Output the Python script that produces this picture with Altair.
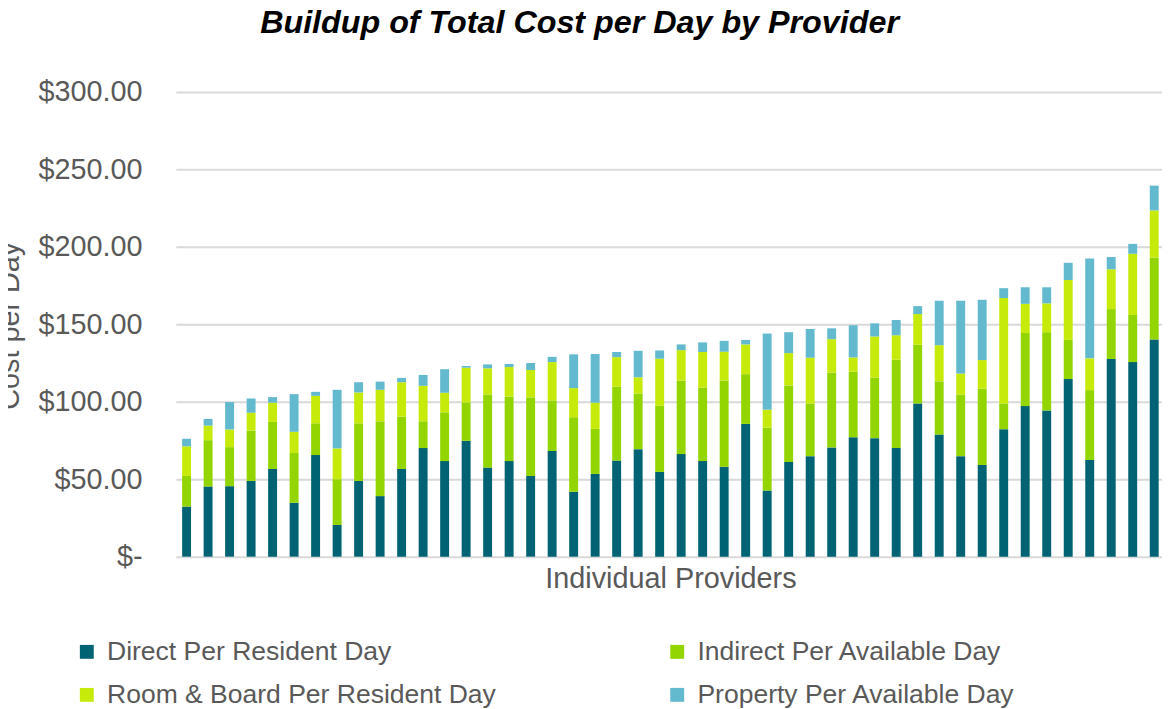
import altair as alt
import pandas as pd

providers = list(range(1, 47))

direct = [32.3, 45.3, 45.5, 48.9, 56.6, 34.8, 65.6, 20.5, 48.9, 39.1,
          56.6, 70.1, 61.7, 74.8, 57.5, 61.7, 52.1, 68.2, 41.9, 53.4,
          62.0, 69.4, 54.7, 66.2, 61.7, 58.1, 85.7, 42.7, 61.1, 64.9,
          70.5, 77.1, 76.5, 70.1, 98.9, 78.8, 64.9, 59.2, 82.3, 97.2,
          94.4, 114.7, 62.4, 127.6, 125.6, 140.2]
indirect = [19.8, 29.9, 25.2, 32.5, 30.4, 32.1, 20.5, 29.5, 37.2, 48.3,
            33.8, 17.3, 31.5, 24.8, 47.2, 41.7, 50.7, 32.7, 48.1, 29.1,
            47.8, 35.9, 42.7, 47.5, 47.5, 55.6, 32.1, 40.6, 49.4, 34.0,
            48.3, 42.3, 39.1, 57.0, 37.9, 34.4, 39.8, 49.3, 16.6, 47.2,
            50.5, 25.2, 45.1, 32.2, 30.4, 52.9]
room_board = [19.1, 9.4, 11.4, 11.5, 12.4, 13.7, 17.7, 19.9, 19.9, 20.3,
              22.2, 22.9, 12.6, 22.4, 16.9, 19.0, 17.7, 24.7, 18.8, 16.9,
              19.0, 10.5, 30.4, 19.6, 22.9, 18.6, 19.2, 11.6, 20.9, 29.5,
              21.6, 9.2, 26.5, 15.8, 19.8, 23.3, 13.5, 18.4, 68.0, 18.8,
              18.6, 38.7, 20.5, 25.7, 39.5, 30.4]
property_ = [4.9, 4.3, 17.7, 9.2, 3.6, 24.3, 2.6, 37.8, 6.6, 5.3,
             2.8, 7.0, 15.2, 1.1, 2.5, 2.0, 4.5, 3.4, 21.8, 31.4,
             3.3, 17.1, 5.3, 3.7, 6.2, 7.0, 2.9, 49.1, 13.5, 18.6,
             7.0, 20.8, 8.5, 9.9, 5.1, 28.7, 47.0, 38.9, 6.4, 10.7,
             10.4, 11.1, 64.5, 7.9, 6.4, 16.0]

series = ["Direct Per Resident Day", "Indirect Per Available Day",
          "Room & Board Per Resident Day", "Property Per Available Day"]
colors = ["#006373", "#93d500", "#c6eb0a", "#63b9cd"]
y_ticks = [0, 50, 100, 150, 200, 250, 300]

rows = []
for i, p in enumerate(providers):
    for k, vals in enumerate([direct, indirect, room_board, property_]):
        rows.append({"provider": p, "series": series[k], "ord": k, "value": vals[i]})
df = pd.DataFrame(rows)

FONT = "Liberation Sans"
GREY = "#595959"

chart = alt.Chart(df).mark_bar().encode(
    x=alt.X("provider:O", sort=None,
            scale=alt.Scale(range=[0, 996], paddingInner=0.585, paddingOuter=0.2925),
            axis=alt.Axis(title="Individual Providers", labels=False, ticks=False,
                          domain=False, grid=False, titleFontSize=29, titleColor=GREY,
                          titleFontWeight="normal", titleY=31,
                          titleBaseline="alphabetic")),
    y=alt.Y("value:Q", stack="zero",
            scale=alt.Scale(domain=[0, 300], nice=False),
            axis=alt.Axis(values=y_ticks,
                          labelExpr="datum.value == 0 ? '$-\u00a0\u00a0' : '$' + format(datum.value, ',.2f')",
                          title="Cost per Day", ticks=False, tickSize=0, domain=False,
                          labelFontSize=29, labelColor=GREY, labelPadding=34,
                          gridColor="#d9d9d9", gridWidth=2,
                          titleFontSize=29, titleColor=GREY, titleFontWeight="normal",
                          titleX=-158, titleY=235, titleAngle=270,
                          titleBaseline="alphabetic", titleAlign="center")),
    color=alt.Color("series:N",
                    scale=alt.Scale(domain=series, range=colors),
                    legend=alt.Legend(title=None, orient="none", legendX=-103, legendY=550,
                                      direction="horizontal", columns=2,
                                      symbolType="square", symbolSize=196,
                                      symbolStrokeWidth=0, labelFontSize=26.7,
                                      labelColor=GREY, labelOffset=7, columnPadding=168.5,
                                      rowPadding=15.8, padding=0, labelLimit=0)),
    order=alt.Order("ord:Q", sort="ascending"),
).properties(
    width=993,
    height=468,
    title=alt.TitleParams(text="Buildup of Total Cost per Day by Provider",
                          font=FONT, fontSize=32.5, fontWeight="bold", fontStyle="italic",
                          color="#000000", anchor="middle", frame="group", dx=-90,
                          offset=13, baseline="alphabetic"),
    autosize=alt.AutoSizeParams(type="none"),
    padding={"left": 169, "top": 82, "right": 0, "bottom": 165},
    background="#ffffff",
).configure_axis(
    labelFont=FONT, titleFont=FONT
).configure_legend(
    labelFont=FONT
).configure_view(
    stroke=None
)

chart.save("out.html", embed_options={"renderer": "svg", "actions": False})
